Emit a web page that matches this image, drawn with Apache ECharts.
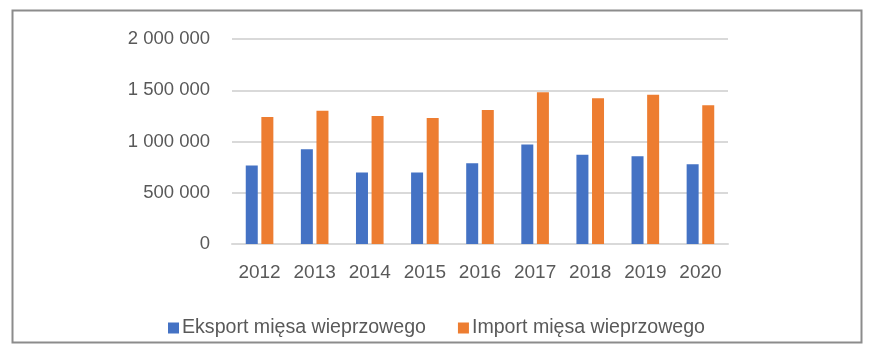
<!DOCTYPE html>
<html>
<head>
<meta charset="utf-8">
<script src="https://cdn.jsdelivr.net/npm/echarts@6/dist/echarts.min.js"></script>
<style>html,body{margin:0;padding:0;background:#fff;}#c{width:877px;height:353px;}</style>
</head>
<body>
<div id="c"></div>
<script>
const categories = ['2012','2013','2014','2015','2016','2017','2018','2019','2020'];
const eksport = [766000, 925000, 697000, 697000, 789000, 970000, 870000, 857000, 779000];
const importVals = [1240000, 1299000, 1250000, 1230000, 1308000, 1481000, 1422000, 1457000, 1354000];
const seriesNames = ['Eksport mięsa wieprzowego', 'Import mięsa wieprzowego'];
const yTicks = [0, 500000, 1000000, 1500000, 2000000];

function fmt(v){ return String(v).replace(/\B(?=(\d{3})+(?!\d))/g, ' '); }

const chart = echarts.init(document.getElementById('c'));
const font = 'Liberation Sans';
chart.setOption({
  animation: false,
  graphic: [{
    type: 'rect', left: 10, top: 8,
    shape: { width: 849, height: 332 },
    style: { fill: 'none', stroke: '#8c8c8c', lineWidth: 2 },
    silent: true
  }],
  grid: { left: 232, right: 149, top: 39, bottom: 109, containLabel: false },
  legend: {
    left: 163, top: 313, itemWidth: 11, itemHeight: 11, itemGap: 32,
    icon: 'rect',
    textStyle: { fontFamily: font, fontSize: 19.6, color: '#595959', padding: [0,0,0,-2] },
    data: seriesNames
  },
  xAxis: {
    type: 'category', data: categories,
    axisLine: { lineStyle: { color: '#d9d9d9', width: 2 } },
    axisTick: { show: false },
    axisLabel: { fontFamily: font, fontSize: 19, color: '#595959', margin: 19 }
  },
  yAxis: {
    type: 'value', min: yTicks[0], max: yTicks[yTicks.length-1], interval: yTicks[1]-yTicks[0],
    axisLine: { show: false }, axisTick: { show: false },
    splitLine: { lineStyle: { color: '#d9d9d9', width: 2 } },
    axisLabel: { fontFamily: font, fontSize: 18.5, color: '#595959', margin: 22, formatter: fmt }
  },
  series: [
    { name: seriesNames[0], type: 'bar', data: eksport, barWidth: 12, barGap: '30%', itemStyle: { color: '#4472C4' } },
    { name: seriesNames[1], type: 'bar', data: importVals, barWidth: 12, barGap: '30%', itemStyle: { color: '#ED7D31' } }
  ]
});
</script>
</body>
</html>
